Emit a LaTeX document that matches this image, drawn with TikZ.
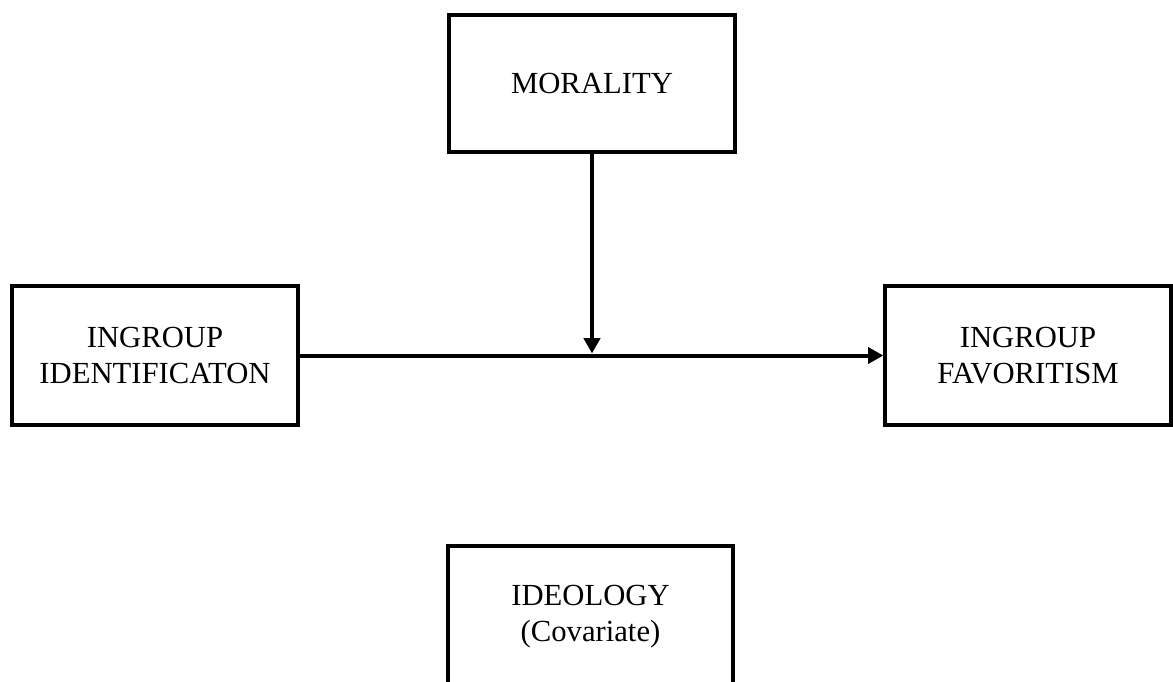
\documentclass[tikz,border=0pt]{standalone}
\usepackage{fontspec}
\setmainfont{Liberation Serif}
\usetikzlibrary{arrows.meta}
\begin{document}
\begin{tikzpicture}[x=0.75pt,y=-0.75pt,
  box/.style={draw=black,line width=3pt,fill=white,align=center,
    font=\fontsize{23}{27}\selectfont,inner sep=0pt,
    minimum width=214pt,minimum height=104pt},
  conn/.style={line width=3pt,-{Triangle[length=11.5pt,width=12pt]}}]
\useasboundingbox (0,0) rectangle (1173,681);
\clip (0,0) rectangle (1173,681);
\fill[white] (0,0) rectangle (1173,681);
\node[box,minimum height=103pt] (moral) at (592,83.5) {MORALITY};
\node[box] (ident) at (155,355.5) {INGROUP\\IDENTIFICATON};
\node[box] (fav) at (1028,355.5) {INGROUP\\FAVORITISM};
\node[box,minimum height=106pt] (ideo) at (590.5,617) {IDEOLOGY\\(Covariate)};
\draw[conn] (ident.east) -- (fav.west);
\coordinate (mid) at (592,353.5);
\draw[conn] (moral.south) -- (mid);
\end{tikzpicture}
\end{document}
